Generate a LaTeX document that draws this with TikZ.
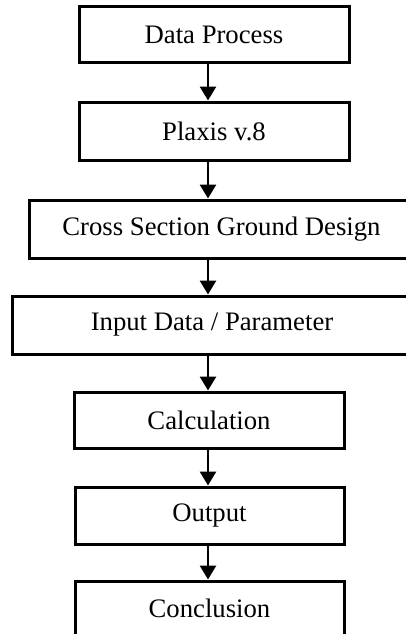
\documentclass[tikz,border=0pt]{standalone}
\usepackage{fontspec}
\setmainfont{Liberation Serif}
\usetikzlibrary{arrows.meta}
\begin{document}
\begin{tikzpicture}[x=1pt,y=-1pt,
  box/.style={draw=black, line width=3pt, rectangle, inner sep=0pt,
    font=\fontsize{26.7}{30}\selectfont},
  flow/.style={line width=2.8pt, -{Triangle[width=16pt,length=14pt]}}]
\useasboundingbox (0,0) rectangle (406,634);
\clip (0,0) rectangle (406,634);
\fill[white] (0,0) rectangle (406,634);
\node[box, minimum width=270pt, minimum height=56pt] (b1) at (214,35) {Data Process};
\node[box, minimum width=270pt, minimum height=58pt] (b2) at (214,131) {Plaxis v.8};
\node[box, minimum width=385pt, minimum height=58pt] (b3) at (221.5,229) {Cross Section Ground Design};
\node[box, minimum width=400pt, minimum height=58pt] (b4) at (212,325) {Input Data / Parameter};
\node[box, minimum width=270pt, minimum height=56pt] (b5) at (209,420) {Calculation};
\node[box, minimum width=269pt, minimum height=57pt] (b6) at (209.5,515.5) {Output};
\node[box, minimum width=269pt, minimum height=54pt] (b7) at (209.5,608) {Conclusion};
\coordinate (ax) at (208,0);
\draw[flow] (b1.south -| ax) -- (b2.north -| ax);
\draw[flow] (b2.south -| ax) -- (b3.north -| ax);
\draw[flow] (b3.south -| ax) -- (b4.north -| ax);
\draw[flow] (b4.south -| ax) -- (b5.north -| ax);
\draw[flow] (b5.south -| ax) -- (b6.north -| ax);
\draw[flow] (b6.south -| ax) -- (b7.north -| ax);
\end{tikzpicture}
\end{document}
